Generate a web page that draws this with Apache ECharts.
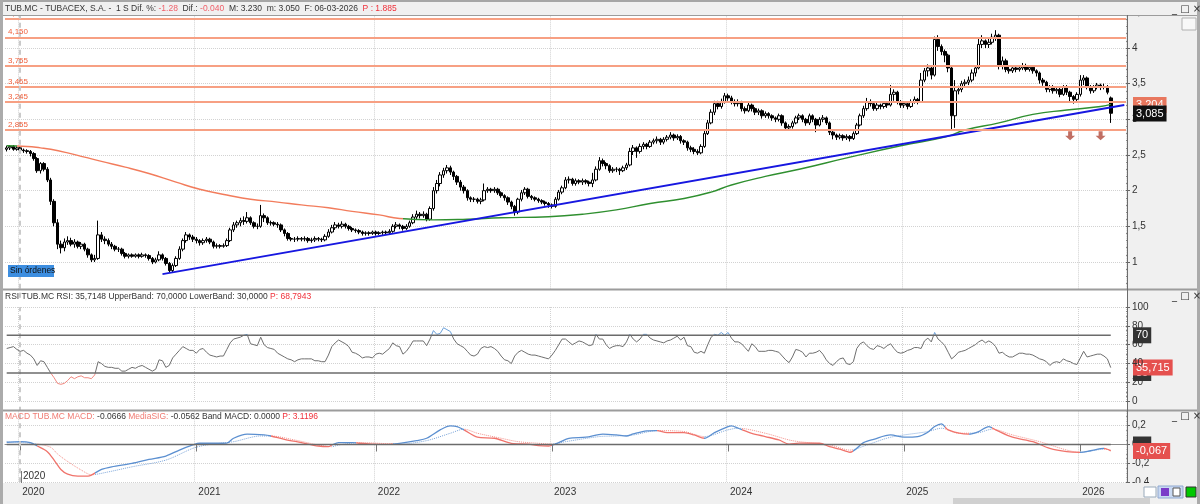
<!DOCTYPE html>
<html>
<head>
<meta charset="utf-8">
<script src="https://cdn.jsdelivr.net/npm/echarts@6.0.0/dist/echarts.min.js"></script>
<style>
html,body{margin:0;padding:0;background:#fff}
#chart{width:1200px;height:504px}
</style>
</head>
<body>
<div id="chart"></div>
<script>
// weekly candles [open, close, low, high], first week 2019-12-06
var firstWeek = '2019-12-06';
var extraWeeks = 4;
var candles = [
[2.58,2.60,2.55,2.63],[2.60,2.62,2.57,2.64],[2.62,2.58,2.56,2.64],[2.58,2.60,2.56,2.62],[2.60,2.57,2.55,2.62],[2.57,2.56,2.53,2.59],[2.56,2.55,2.52,2.58],[2.55,2.52,2.48,2.57],[2.52,2.45,2.42,2.54],[2.45,2.28,2.25,2.47],
[2.28,2.38,2.24,2.40],[2.38,2.30,2.27,2.40],[2.30,2.15,2.12,2.33],[2.15,1.85,1.80,2.18],[1.85,1.55,1.50,1.88],[1.55,1.25,1.18,1.60],[1.25,1.20,1.12,1.30],[1.20,1.28,1.15,1.33],[1.28,1.30,1.24,1.36],[1.30,1.25,1.22,1.34],
[1.25,1.28,1.20,1.32],[1.28,1.22,1.19,1.30],[1.22,1.25,1.18,1.28],[1.25,1.18,1.15,1.27],[1.18,1.10,1.06,1.20],[1.10,1.03,1.00,1.12],[1.03,1.05,1.00,1.10],[1.05,1.38,1.03,1.58],[1.38,1.32,1.28,1.42],[1.32,1.30,1.25,1.36],
[1.30,1.25,1.22,1.33],[1.25,1.22,1.18,1.28],[1.22,1.18,1.15,1.24],[1.18,1.18,1.14,1.21],[1.18,1.12,1.09,1.20],[1.12,1.08,1.05,1.14],[1.08,1.10,1.05,1.12],[1.10,1.08,1.06,1.12],[1.08,1.10,1.06,1.12],[1.10,1.08,1.05,1.12],
[1.08,1.10,1.06,1.13],[1.10,1.09,1.06,1.12],[1.09,1.05,1.02,1.11],[1.05,1.00,0.97,1.07],[1.00,1.03,0.98,1.06],[1.03,1.10,1.01,1.15],[1.10,1.05,1.02,1.12],[1.05,0.98,0.95,1.07],[0.98,0.88,0.85,1.00],[0.88,0.95,0.86,0.98],
[0.95,1.05,0.93,1.08],[1.05,1.18,1.03,1.22],[1.18,1.30,1.15,1.33],[1.30,1.38,1.27,1.42],[1.38,1.35,1.31,1.40],[1.35,1.32,1.28,1.38],[1.32,1.30,1.26,1.35],[1.30,1.27,1.23,1.32],[1.27,1.30,1.24,1.33],[1.30,1.32,1.27,1.35],
[1.32,1.28,1.25,1.34],[1.28,1.22,1.19,1.30],[1.22,1.23,1.19,1.26],[1.23,1.22,1.19,1.25],[1.22,1.23,1.20,1.26],[1.23,1.30,1.21,1.33],[1.30,1.45,1.28,1.48],[1.45,1.52,1.42,1.56],[1.52,1.55,1.48,1.58],[1.55,1.58,1.50,1.62],
[1.58,1.57,1.52,1.64],[1.57,1.62,1.54,1.70],[1.62,1.55,1.52,1.64],[1.55,1.50,1.47,1.57],[1.50,1.50,1.46,1.54],[1.50,1.65,1.48,1.80],[1.65,1.62,1.56,1.68],[1.62,1.55,1.52,1.64],[1.55,1.55,1.51,1.58],[1.55,1.53,1.50,1.57],
[1.53,1.52,1.48,1.56],[1.52,1.45,1.42,1.54],[1.45,1.40,1.36,1.47],[1.40,1.33,1.30,1.42],[1.33,1.32,1.29,1.35],[1.32,1.32,1.28,1.35],[1.32,1.33,1.29,1.36],[1.33,1.32,1.29,1.35],[1.32,1.33,1.29,1.36],[1.33,1.30,1.27,1.35],
[1.30,1.31,1.27,1.34],[1.31,1.33,1.28,1.36],[1.33,1.32,1.29,1.35],[1.32,1.31,1.28,1.34],[1.31,1.36,1.29,1.39],[1.36,1.42,1.34,1.46],[1.42,1.48,1.40,1.52],[1.48,1.52,1.45,1.56],[1.52,1.50,1.47,1.55],[1.50,1.53,1.47,1.57],
[1.53,1.50,1.47,1.55],[1.50,1.47,1.44,1.52],[1.47,1.45,1.42,1.49],[1.45,1.44,1.41,1.47],[1.44,1.42,1.39,1.46],[1.42,1.40,1.37,1.44],[1.40,1.41,1.37,1.43],[1.41,1.40,1.37,1.43],[1.40,1.42,1.38,1.44],[1.42,1.40,1.37,1.44],
[1.40,1.41,1.38,1.43],[1.41,1.42,1.38,1.44],[1.42,1.41,1.38,1.44],[1.41,1.43,1.39,1.46],[1.43,1.50,1.41,1.53],[1.50,1.52,1.47,1.56],[1.52,1.50,1.46,1.54],[1.50,1.47,1.44,1.52],[1.47,1.50,1.45,1.53],[1.50,1.55,1.48,1.58],
[1.55,1.63,1.53,1.67],[1.63,1.67,1.60,1.72],[1.67,1.65,1.61,1.70],[1.65,1.67,1.62,1.71],[1.67,1.60,1.57,1.69],[1.60,1.75,1.58,1.78],[1.75,2.00,1.72,2.05],[2.00,2.10,1.96,2.15],[2.10,2.22,2.06,2.26],[2.22,2.28,2.18,2.32],
[2.28,2.32,2.24,2.36],[2.32,2.26,2.22,2.35],[2.26,2.20,2.15,2.28],[2.20,2.12,2.08,2.22],[2.12,2.05,2.00,2.15],[2.05,2.00,1.96,2.08],[2.00,1.90,1.86,2.02],[1.90,1.88,1.84,1.92],[1.88,1.88,1.84,1.91],[1.88,1.85,1.82,1.90],
[1.85,1.87,1.81,1.90],[1.87,2.00,1.85,2.10],[2.00,2.02,1.97,2.05],[2.02,2.00,1.97,2.04],[2.00,2.02,1.97,2.05],[2.02,1.97,1.94,2.04],[1.97,1.93,1.90,1.99],[1.93,1.90,1.86,1.95],[1.90,1.84,1.80,1.92],[1.84,1.78,1.74,1.86],
[1.78,1.70,1.65,1.80],[1.70,1.88,1.67,1.90],[1.88,1.97,1.85,2.01],[1.97,2.02,1.94,2.05],[2.02,1.92,1.89,2.04],[1.92,1.90,1.87,1.94],[1.90,1.88,1.85,1.92],[1.88,1.86,1.83,1.90],[1.86,1.84,1.81,1.88],[1.84,1.82,1.79,1.86],
[1.82,1.80,1.76,1.84],[1.80,1.78,1.75,1.82],[1.78,1.88,1.76,1.91],[1.88,1.98,1.86,2.01],[1.98,2.04,1.95,2.07],[2.04,2.15,2.02,2.19],[2.15,2.16,2.10,2.20],[2.16,2.10,2.07,2.18],[2.10,2.14,2.07,2.17],[2.14,2.12,2.09,2.16],
[2.12,2.14,2.08,2.17],[2.14,2.12,2.09,2.16],[2.12,2.10,2.06,2.14],[2.10,2.15,2.05,2.25],[2.15,2.30,2.13,2.34],[2.30,2.42,2.28,2.47],[2.42,2.38,2.34,2.45],[2.38,2.35,2.30,2.40],[2.35,2.28,2.25,2.37],[2.28,2.30,2.25,2.33],
[2.30,2.30,2.26,2.33],[2.30,2.28,2.22,2.32],[2.28,2.32,2.26,2.35],[2.32,2.36,2.29,2.39],[2.36,2.55,2.34,2.60],[2.55,2.60,2.50,2.64],[2.60,2.55,2.46,2.62],[2.55,2.62,2.52,2.66],[2.62,2.65,2.58,2.68],[2.65,2.62,2.58,2.67],
[2.62,2.68,2.60,2.71],[2.68,2.70,2.65,2.73],[2.70,2.72,2.66,2.76],[2.72,2.68,2.64,2.74],[2.68,2.72,2.65,2.75],[2.72,2.75,2.69,2.78],[2.75,2.78,2.72,2.82],[2.78,2.74,2.70,2.80],[2.74,2.76,2.71,2.79],[2.76,2.70,2.66,2.78],
[2.70,2.68,2.64,2.72],[2.68,2.60,2.56,2.70],[2.60,2.58,2.54,2.63],[2.58,2.55,2.51,2.61],[2.55,2.53,2.50,2.58],[2.53,2.62,2.51,2.65],[2.62,2.80,2.60,2.84],[2.80,2.95,2.78,2.99],[2.95,3.10,2.93,3.14],[3.10,3.22,3.06,3.26],
[3.22,3.18,3.14,3.26],[3.18,3.25,3.15,3.29],[3.25,3.33,3.22,3.37],[3.33,3.30,3.26,3.36],[3.30,3.25,3.21,3.33],[3.25,3.22,3.18,3.28],[3.22,3.24,3.18,3.28],[3.24,3.15,3.11,3.26],[3.15,3.12,3.08,3.18],[3.12,3.20,3.10,3.24],
[3.20,3.15,3.11,3.22],[3.15,3.10,3.06,3.17],[3.10,3.12,3.06,3.15],[3.12,3.05,3.01,3.14],[3.05,3.08,3.02,3.11],[3.08,3.05,3.01,3.10],[3.05,3.02,2.98,3.07],[3.02,3.00,2.96,3.04],[3.00,3.05,2.97,3.08],[3.05,2.95,2.91,3.07],
[2.95,2.88,2.84,2.97],[2.88,2.90,2.84,2.93],[2.90,2.95,2.87,2.98],[2.95,3.02,2.93,3.05],[3.02,3.05,2.99,3.08],[3.05,3.00,2.96,3.07],[3.00,2.95,2.91,3.02],[2.95,3.05,2.92,3.08],[3.05,3.00,2.96,3.07],[3.00,2.92,2.82,3.02],
[2.92,3.00,2.90,3.03],[3.00,3.02,2.96,3.06],[3.02,2.95,2.92,3.04],[2.95,2.82,2.78,2.97],[2.82,2.78,2.72,2.85],[2.78,2.75,2.71,2.80],[2.75,2.77,2.72,2.80],[2.77,2.74,2.70,2.79],[2.74,2.76,2.71,2.79],[2.76,2.73,2.69,2.78],
[2.73,2.80,2.71,2.83],[2.80,2.92,2.78,2.95],[2.92,3.05,2.90,3.08],[3.05,3.15,3.02,3.19],[3.15,3.25,3.12,3.30],[3.25,3.22,3.18,3.28],[3.22,3.15,3.12,3.25],[3.15,3.20,3.12,3.23],[3.20,3.18,3.14,3.22],[3.18,3.22,3.15,3.25],
[3.22,3.20,3.16,3.25],[3.20,3.35,3.18,3.48],[3.35,3.38,3.26,3.42],[3.38,3.25,3.21,3.40],[3.25,3.20,3.16,3.27],[3.20,3.22,3.16,3.25],[3.22,3.18,3.14,3.24],[3.18,3.25,3.16,3.28],[3.25,3.28,3.22,3.32],[3.28,3.25,3.21,3.30],
[3.25,3.55,3.23,3.65],[3.55,3.68,3.52,3.72],[3.68,3.72,3.60,3.77],[3.72,3.62,3.56,3.75],[3.62,4.12,3.60,4.16],[4.12,4.02,3.96,4.18],[4.02,3.95,3.90,4.05],[3.95,3.90,3.80,3.98],[3.90,3.72,3.66,3.92],[3.72,3.05,2.85,3.74],
[3.05,3.40,2.88,3.55],[3.40,3.42,3.35,3.47],[3.42,3.50,3.38,3.54],[3.50,3.52,3.45,3.56],[3.52,3.55,3.48,3.60],[3.55,3.65,3.52,3.70],[3.65,3.72,3.60,3.76],[3.72,4.05,3.70,4.15],[4.05,4.10,4.00,4.18],[4.10,4.05,4.00,4.12],
[4.05,4.08,4.00,4.15],[4.08,4.15,4.05,4.20],[4.15,4.18,4.10,4.25],[4.18,3.75,3.70,4.20],[3.75,3.82,3.70,3.88],[3.82,3.70,3.66,3.85],[3.70,3.68,3.64,3.74],[3.68,3.72,3.65,3.76],[3.72,3.70,3.66,3.75],[3.70,3.72,3.67,3.76],
[3.72,3.75,3.69,3.79],[3.75,3.70,3.67,3.78],[3.70,3.73,3.67,3.76],[3.73,3.68,3.64,3.75],[3.68,3.65,3.60,3.70],[3.65,3.55,3.50,3.67],[3.55,3.52,3.47,3.58],[3.52,3.42,3.38,3.54],[3.42,3.45,3.38,3.48],[3.45,3.40,3.36,3.48],
[3.40,3.42,3.36,3.46],[3.42,3.35,3.31,3.45],[3.35,3.45,3.33,3.48],[3.45,3.38,3.34,3.48],[3.38,3.32,3.25,3.40],[3.32,3.28,3.22,3.34],[3.28,3.35,3.24,3.38],[3.35,3.55,3.32,3.62],[3.55,3.58,3.48,3.62],[3.58,3.45,3.42,3.60],
[3.45,3.40,3.36,3.48],[3.40,3.45,3.37,3.48],[3.45,3.48,3.42,3.51],[3.48,3.45,3.41,3.50],[3.45,3.46,3.42,3.50],[3.46,3.38,3.35,3.48],[3.30,3.085,2.95,3.32]
];

// moving average, read at sparse weeks [weekIndex, value]
var maLine = [[0,2.63],[6,2.62],[10,2.60],[13,2.58],[18,2.53],[23,2.47],[28,2.41],[35,2.33],[42,2.24],[50,2.12],[57,2.02],[65,1.94],[72,1.88],[80,1.84],[87,1.80],[95,1.76],[102,1.71],[110,1.66],[116,1.61],[126,1.59],[136,1.60],[146,1.62],[160,1.635],[170,1.67],[180,1.73],[190,1.82],[200,1.89],[208,1.98],[214,2.08],[224,2.20],[234,2.30],[249,2.47],[264,2.63],[277,2.75],[283,2.85],[293,2.95],[303,3.07],[313,3.13],[323,3.18],[326,3.21]];
var maRedSpan = [3, 117];

var levels = [4.405, 4.150, 3.755, 3.465, 3.245, 2.855];
var trendLine = [[46, 0.83], [330, 3.20]];
var sellArrows = [[314, 2.77], [323, 2.77]];
var priceTags = [3.204, 3.085];

var rsi = [
56,57,58,55,53,54,51,49,45,38, 43,42,36,30,25,19,18,19,22,26, 24,26,27,25,25,24,28,42,40,37,
36,36,35,35,32,32,34,36,35,37, 38,36,34,32,34,44,43,36,38,46, 50,54,58,56,54,54,51,55,56,52,
49,48,47,48,48,55,62,66,67,68, 70,71,61,60,59,68,60,57,56,55, 51,49,47,45,44,42,44,45,45,45,
45,43,43,42,42,49,58,62,65,63, 61,58,52,51,49,46,47,47,46,50, 51,50,53,56,62,59,58,50,53,58,
64,64,64,64,59,66,75,71,72,78, 76,74,66,61,59,57,53,49,48,50, 56,58,57,58,56,53,48,44,43,40,
48,52,54,52,50,49,49,48,47,46, 45,49,54,60,66,66,63,60,62,64, 63,61,59,60,71,66,66,60,56,58,
59,59,58,63,71,66,63,66,71,71, 67,65,64,63,62,64,65,67,69,65, 68,59,58,52,51,53,51,60,68,71,
70,73,70,73,67,63,63,61,57,53, 61,58,53,53,53,54,54,53,52,48, 44,41,47,55,54,52,47,51,51,52,
54,50,44,40,38,42,45,46,40,39, 42,56,61,63,59,56,55,59,58,56, 59,61,56,52,51,52,54,55,57,57,
56,64,67,63,73,66,63,59,52,45, 48,52,53,54,56,58,60,63,65,62, 64,62,58,51,52,49,47,47,49,51,
51,50,50,49,47,45,44,42,38,41, 42,41,45,43,42,40,39,46,53,47, 48,49,50,50,48,45,35.7
];
var rsiBands = [70, 30];
var rsiTag = 35.715;

var macd = [[0,0.023],[4,0.03],[7,0.02],[9,-0.016],[12,-0.076],[14,-0.165],[16,-0.264],[18,-0.314],[21,-0.335],[24,-0.335],[25,-0.324],[28,-0.264],[31,-0.236],[37,-0.2],[42,-0.158],[47,-0.122],[51,-0.059],[55,-0.005],[57,0.013],[62,0.013],[65,0.015],[67,0.066],[71,0.109],[76,0.101],[78,0.09],[82,0.055],[87,0.02],[92,-0.016],[95,-0.023],[96,-0.005],[98,0.02],[102,0.02],[104,0.013],[108,0.005],[112,0.002],[116,0.013],[121,0.041],[124,0.066],[128,0.155],[131,0.197],[133,0.19],[135,0.155],[139,0.077],[144,0.066],[149,0.013],[154,0.005],[157,-0.012],[160,-0.016],[163,0.02],[166,0.066],[171,0.077],[176,0.109],[180,0.101],[183,0.09],[185,0.112],[189,0.144],[192,0.147],[195,0.126],[200,0.126],[203,0.101],[206,0.066],[209,0.126],[213,0.19],[214,0.197],[216,0.172],[220,0.119],[224,0.084],[228,0.048],[231,0.005],[234,0.015],[240,0.013],[243,-0.023],[246,-0.05],[249,-0.082],[253,0.02],[256,0.055],[261,0.101],[265,0.077],[269,0.084],[272,0.13],[274,0.19],[276,0.218],[278,0.155],[284,0.109],[287,0.137],[290,0.19],[292,0.155],[297,0.077],[303,0.03],[308,-0.041],[313,-0.076],[317,-0.083],[320,-0.066],[324,-0.041],[326,-0.067]];
var signal = [[0,0.03],[9,0.006],[13,-0.03],[15,-0.1],[18,-0.18],[22,-0.27],[25,-0.32],[30,-0.29],[37,-0.236],[47,-0.165],[55,-0.04],[59,-0.005],[67,0.03],[75,0.09],[78,0.09],[85,0.048],[92,-0.005],[96,-0.023],[98,-0.005],[104,0.02],[116,0.005],[124,0.041],[131,0.119],[135,0.162],[139,0.119],[146,0.066],[151,0.03],[157,0.013],[161,0.005],[165,0.03],[175,0.084],[180,0.09],[185,0.101],[192,0.147],[200,0.137],[206,0.084],[213,0.155],[216,0.172],[224,0.119],[231,0.048],[234,0.03],[243,-0.005],[249,-0.059],[254,-0.005],[261,0.077],[272,0.137],[276,0.172],[281,0.119],[287,0.126],[291,0.162],[297,0.101],[305,0.03],[313,-0.059],[317,-0.083],[324,-0.05],[326,-0.056]];
// weeks where MACD and its signal cross (colour flips, starts blue)
var macdCross = [9, 25.5, 77.7, 96.3, 103.4, 114, 134.7, 161.3, 192, 205.6, 216.5, 249.9, 277, 284.4, 291.2, 316.9, 324.3];
var macdTag = -0.067;

var dates = [];
var t0 = new Date(firstWeek + 'T00:00:00Z').getTime();
for (var i = 0; i < candles.length + extraWeeks; i++) {
    dates.push(new Date(t0 + i * 7 * 86400000).toISOString().slice(0, 10));
}
var lastIdx = candles.length - 1;
function yearStart(idx) {
    return idx > 0 && dates[idx].slice(0, 4) !== dates[idx - 1].slice(0, 4);
}
var firstYearIdx = 1;
while (!yearStart(firstYearIdx)) firstYearIdx++;

var FONT = 'Liberation Sans';
var BLUE = '#5b8fd0', RED = '#f0736b';
var macdPieces = [];
macdCross.forEach(function (c, k) {
    var p = { lt: c, color: k % 2 === 0 ? BLUE : RED };
    if (k > 0) p.gte = macdCross[k - 1];
    macdPieces.push(p);
});
macdPieces.push({ gte: macdCross[macdCross.length - 1], color: macdCross.length % 2 === 0 ? BLUE : RED });

function comma(v) { return String(v).replace('.', ','); }

function xAxisFor(gi, withLabels, z) {
    return {
        type: 'category', gridIndex: gi, data: dates, boundaryGap: true, z: z,
        axisLine: { show: withLabels, lineStyle: { color: '#8a8a8a' } },
        axisTick: { show: withLabels, interval: yearStart, alignWithLabel: true, length: 7, lineStyle: { color: '#777' } },
        axisLabel: { show: withLabels, interval: yearStart, formatter: function (v) { return v.slice(0, 4); },
            align: 'left', color: '#333', fontSize: 10, fontFamily: FONT, margin: 5, padding: [0, 0, 0, 2] },
        splitLine: { show: true, interval: yearStart, lineStyle: { type: 'dotted', color: '#d2d2d2' } }
    };
}
function yAxisFor(gi, min, max, interval, fmt, z, minor) {
    return {
        type: 'value', gridIndex: gi, position: 'right', min: min, max: max, interval: interval, z: z,
        axisLine: { show: false },
        axisTick: { show: true, length: 4, lineStyle: { color: '#666' } },
        minorTick: { show: true, splitNumber: minor, length: 2, lineStyle: { color: '#888' } },
        axisLabel: { color: '#333', fontSize: 10, fontFamily: FONT, margin: 6, formatter: fmt },
        splitLine: { lineStyle: { type: 'dotted', color: '#d2d2d2' } }
    };
}
function tag(value, text, bg, fg) {
    return { yAxis: value, lineStyle: { color: 'rgba(0,0,0,0)', width: 0 },
        label: { show: true, position: 'end', distance: 7, formatter: text, color: fg || '#fff', backgroundColor: bg,
            padding: [3, 3, 2, 3], fontSize: 11, fontFamily: FONT } };
}
function vDash() {
    return { xAxis: dates[firstYearIdx], label: { show: false }, lineStyle: { type: [5, 4], color: '#cacaca', width: 2 } };
}

var chart = echarts.init(document.getElementById('chart'));
var option = {
    animation: false,
    backgroundColor: '#fff',
    grid: [
        { left: 5, width: 1121, top: 12.33, height: 285.33, outerBoundsMode: 'none' },
        { left: 5, width: 1121, top: 307, height: 94.3, outerBoundsMode: 'none' },
        { left: 5, width: 1121, top: 406.7, height: 75.6, outerBoundsMode: 'none' }
    ],
    xAxis: [xAxisFor(0, false, 2), xAxisFor(1, false, 6), xAxisFor(2, true, 4)],
    yAxis: [
        (function () { var a = yAxisFor(0, 0.5, 4.5, 0.5, comma, 2, 5); a.axisLabel.showMinLabel = false; return a; })(),
        yAxisFor(1, 0, 100, 20, null, 6, 4),
        (function () { var a = yAxisFor(2, -0.4, 0.4, 0.2, function (v) { return comma(Math.round(v * 10) / 10); }, 2, 4); a.axisLabel.showMaxLabel = false; return a; })()
    ],
    visualMap: [
        { type: 'piecewise', show: false, seriesIndex: 1, dimension: 0,
          pieces: [{ lt: maRedSpan[0], color: '#2f8f2f' }, { gte: maRedSpan[0], lt: maRedSpan[1], color: '#f27c5c' }, { gte: maRedSpan[1], color: '#2f8f2f' }] },
        { type: 'piecewise', show: false, seriesIndex: 4, dimension: 1,
          pieces: [{ lt: rsiBands[1], color: '#f0877f' }, { gte: rsiBands[1], lte: rsiBands[0], color: '#6e6e6e' }, { gt: rsiBands[0], color: '#6a9fd8' }] },
        { type: 'piecewise', show: false, seriesIndex: [7, 8], dimension: 0, pieces: macdPieces }
    ],
    series: [
        { type: 'candlestick', xAxisIndex: 0, yAxisIndex: 0, data: candles, barWidth: 3, z: 3,
          itemStyle: { color: '#fff', color0: '#000', borderColor: '#000', borderColor0: '#000', borderWidth: 1 },
          markLine: { silent: true, symbol: ['none', 'none'], animation: false,
              data: levels.map(function (v) {
                  return { yAxis: v, lineStyle: { color: '#f7a083', width: 2, type: 'solid' },
                      label: { show: true, position: 'insideStartTop', distance: [3, 1], formatter: comma(v.toFixed(3)),
                          color: '#f0603c', fontSize: 8, fontFamily: FONT } };
              }).concat([vDash(), tag(priceTags[0], comma(priceTags[0].toFixed(3)), '#e8775e'), tag(priceTags[1], comma(priceTags[1].toFixed(3)), '#111')]) } },
        { type: 'line', xAxisIndex: 0, yAxisIndex: 0, data: maLine, smooth: true, showSymbol: false, z: 4, lineStyle: { width: 1.4 } },
        { type: 'line', xAxisIndex: 0, yAxisIndex: 0, data: trendLine, showSymbol: false, z: 4, lineStyle: { color: '#1717e0', width: 2 } },
        { type: 'scatter', xAxisIndex: 0, yAxisIndex: 0, data: sellArrows, z: 4,
          symbol: 'path://M3,0 L7,0 L7,5 L10,5 L5,10 L0,5 L3,5 Z', symbolSize: [10, 9], itemStyle: { color: '#b04a3c' } },
        { type: 'line', xAxisIndex: 1, yAxisIndex: 1, data: rsi, showSymbol: false, z: 7, lineStyle: { width: 1 } },
        { type: 'line', xAxisIndex: 1, yAxisIndex: 1, data: [[0, rsiBands[0]], [lastIdx, rsiBands[0]]], showSymbol: false, z: 7,
          lineStyle: { color: '#6b6b6b', width: 1.5 },
          markLine: { silent: true, symbol: ['none', 'none'], animation: false,
              data: [vDash(), tag(rsiBands[0], String(rsiBands[0]), '#333'), tag(rsiBands[1], String(rsiBands[1]), '#333'), tag(rsiTag, comma(rsiTag.toFixed(3)), '#e5504e')] } },
        { type: 'line', xAxisIndex: 1, yAxisIndex: 1, data: [[0, rsiBands[1]], [lastIdx, rsiBands[1]]], showSymbol: false, z: 7,
          lineStyle: { color: '#6b6b6b', width: 1.5 } },
        { type: 'line', xAxisIndex: 2, yAxisIndex: 2, data: macd, smooth: 0.3, showSymbol: false, z: 4, lineStyle: { width: 1.3 } },
        { type: 'line', xAxisIndex: 2, yAxisIndex: 2, data: signal, smooth: 0.3, showSymbol: false, z: 4, lineStyle: { width: 1, type: 'dotted', opacity: 0.8 } },
        { type: 'line', xAxisIndex: 2, yAxisIndex: 2, data: [[0, 0], [lastIdx, 0]], showSymbol: false, z: 4,
          lineStyle: { color: '#6b6b6b', width: 1.5 },
          markLine: { silent: true, symbol: ['none', 'none'], animation: false,
              data: [vDash(), tag(0, '00', '#333', '#333'), tag(macdTag, comma(macdTag.toFixed(3)), '#e5504e')] } }
    ],
    graphic: [
        { type: 'rect', z: 1, silent: true, shape: { x: 1127, y: 0, width: 73, height: 504 }, style: { fill: '#f0f0f0' } },
        { type: 'rect', z: 5, silent: true, shape: { x: 0, y: 289, width: 1127, height: 122 }, style: { fill: '#fff' } },
        { type: 'rect', z: 5, silent: true, shape: { x: 1127, y: 289, width: 73, height: 122 }, style: { fill: '#f0f0f0' } },
        { type: 'rect', z: 3, silent: true, shape: { x: 0, y: 483, width: 1200, height: 21 }, style: { fill: '#f0f0f0' } },
        { type: 'rect', z: 3, silent: true, shape: { x: 953, y: 498, width: 197, height: 6 }, style: { fill: '#d0d0d0' } },
        { type: 'rect', z: 8, silent: true, shape: { x: 0, y: 0, width: 1200, height: 15 }, style: { fill: '#f0f0f0' } },
        { type: 'rect', z: 8, silent: true, shape: { x: 0, y: 0, width: 1200, height: 2 }, style: { fill: '#a6a6a6' } },
        { type: 'line', z: 8, silent: true, shape: { x1: 0, y1: 15.5, x2: 1200, y2: 15.5 }, style: { stroke: '#9c9c9c', lineWidth: 1 } },
        { type: 'line', z: 8, silent: true, shape: { x1: 0, y1: 289.5, x2: 1200, y2: 289.5 }, style: { stroke: '#9c9c9c', lineWidth: 2 } },
        { type: 'line', z: 8, silent: true, shape: { x1: 0, y1: 410.5, x2: 1200, y2: 410.5 }, style: { stroke: '#9c9c9c', lineWidth: 2 } },
        { type: 'line', z: 8, silent: true, shape: { x1: 1127.5, y1: 15, x2: 1127.5, y2: 483 }, style: { stroke: '#6c6c6c', lineWidth: 1 } },
        { type: 'rect', z: 8, silent: true, shape: { x: 0, y: 0, width: 3, height: 504 }, style: { fill: '#ababab' } },
        { type: 'rect', z: 8, silent: true, shape: { x: 1197, y: 0, width: 3, height: 504 }, style: { fill: '#ababab' } },
        { type: 'text', z: 9, silent: true, x: 5, y: 9, style: { verticalAlign: 'middle', fontFamily: FONT, fontSize: 8.5,
            text: '{d|TUB.MC - TUBACEX, S.A. -  1 S Dif. %: }{s|-1.28}{d|  Dif.: }{s|-0.040}{d|  M: 3.230  m: 3.050  F: 06-03-2026  }{r|P : 1.885}',
            rich: { d: { fill: '#333', fontSize: 8.5, fontFamily: FONT }, s: { fill: '#f0606a', fontSize: 8.5, fontFamily: FONT }, r: { fill: '#f0303a', fontSize: 8.5, fontFamily: FONT } } } },
        { type: 'text', z: 9, silent: true, x: 5, y: 296.5, style: { verticalAlign: 'middle', fontFamily: FONT, fontSize: 8.5,
            text: '{d|RSI TUB.MC RSI: 35,7148 UpperBand: 70,0000 LowerBand: 30,0000 }{r|P: 68,7943}',
            rich: { d: { fill: '#333', fontSize: 8.5, fontFamily: FONT }, r: { fill: '#f0303a', fontSize: 8.5, fontFamily: FONT } } } },
        { type: 'text', z: 9, silent: true, x: 5, y: 416.5, style: { verticalAlign: 'middle', fontFamily: FONT, fontSize: 8.5,
            text: '{s|MACD TUB.MC MACD: }{d|-0.0666 }{s|MediaSIG: }{d|-0.0562 Band MACD: 0.0000 }{r|P: 3.1196}',
            rich: { d: { fill: '#333', fontSize: 8.5, fontFamily: FONT }, s: { fill: '#f07a72', fontSize: 8.5, fontFamily: FONT }, r: { fill: '#f0303a', fontSize: 8.5, fontFamily: FONT } } } },
        { type: 'text', z: 9, silent: true, x: 1172, y: 9, style: { text: '_ □ ×', verticalAlign: 'middle', fontSize: 10, fill: '#333', fontFamily: 'DejaVu Sans' } },
        { type: 'text', z: 9, silent: true, x: 1172, y: 296, style: { text: '_ □ ×', verticalAlign: 'middle', fontSize: 10, fill: '#333', fontFamily: 'DejaVu Sans' } },
        { type: 'text', z: 9, silent: true, x: 1172, y: 416, style: { text: '_ □ ×', verticalAlign: 'middle', fontSize: 10, fill: '#333', fontFamily: 'DejaVu Sans' } },
        { type: 'rect', z: 9, silent: true, shape: { x: 1182, y: 18, width: 14, height: 12 }, style: { fill: '#f8f8f8', stroke: '#b0b0b0', lineWidth: 1 } },
        { type: 'rect', z: 9, silent: true, shape: { x: 8, y: 265, width: 46, height: 12 }, style: { fill: '#3d8ee0' } },
        { type: 'text', z: 9, silent: true, x: 10, y: 271, style: { text: 'Sin órdenes', verticalAlign: 'middle', fontSize: 8.5, fill: '#111', fontFamily: FONT } },
        { type: 'text', z: 9, silent: true, x: 23, y: 476, style: { text: dates[firstYearIdx].slice(0, 4), verticalAlign: 'middle', fontSize: 10, fill: '#333', fontFamily: FONT } },
        { type: 'line', z: 9, silent: true, shape: { x1: 21.5, y1: 471, x2: 21.5, y2: 483 }, style: { stroke: '#777', lineWidth: 1 } },
        { type: 'rect', z: 9, silent: true, shape: { x: 1144, y: 487, width: 12, height: 10 }, style: { fill: '#fff', stroke: '#9ab', lineWidth: 1 } },
        { type: 'rect', z: 9, silent: true, shape: { x: 1158, y: 486, width: 25, height: 12 }, style: { fill: '#c9d9f2', stroke: '#8fa8d0', lineWidth: 1 } },
        { type: 'rect', z: 10, silent: true, shape: { x: 1161, y: 488, width: 8, height: 8 }, style: { fill: '#7a3cc8' } },
        { type: 'rect', z: 10, silent: true, shape: { x: 1173, y: 488, width: 7, height: 8 }, style: { fill: '#fff', stroke: '#555', lineWidth: 1 } },
        { type: 'rect', z: 9, silent: true, shape: { x: 1186, y: 487, width: 10, height: 10 }, style: { fill: '#00c800', stroke: '#333', lineWidth: 1 } }
    ]
};
chart.setOption(option);
</script>
</body>
</html>
